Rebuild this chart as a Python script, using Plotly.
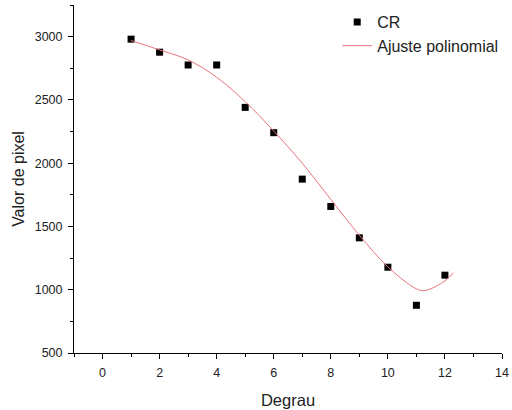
import plotly.graph_objects as go

# Measured data (CR)
degrau = [1, 2, 3, 4, 5, 6, 7, 8, 9, 10, 11, 12]
valor_cr = [2980, 2877, 2776, 2776, 2441, 2241, 1874, 1658, 1410, 1178, 877, 1115]

# Polynomial fit curve
fit_x = [1, 2, 3, 4, 5, 6, 7, 8, 9, 10, 11, 11.3, 12, 12.3]
fit_y = [2969, 2895, 2816, 2679, 2486, 2254, 2000, 1714, 1431, 1181, 1007, 993, 1070, 1136]

fig = go.Figure()
fig.add_trace(go.Scatter(
    x=degrau, y=valor_cr, mode="markers", name="CR",
    marker=dict(symbol="square", size=7, color="black"),
))
fig.add_trace(go.Scatter(
    x=fit_x, y=fit_y, mode="lines", name="Ajuste polinomial",
    line=dict(color="#e8737a", width=1, shape="spline"),
))

axis_common = dict(
    showline=True, linecolor="black", linewidth=1, showgrid=False, zeroline=False,
    ticks="outside", ticklen=5, tickcolor="black", tickwidth=1,
    tickfont=dict(family="Liberation Sans, Arial", size=12.5, color="#222"),
    automargin=False,
)

fig.update_layout(
    width=512, height=410,
    margin=dict(l=74, r=10, t=5, b=57, autoexpand=False),
    paper_bgcolor="white", plot_bgcolor="white",
    font=dict(family="Liberation Sans, Arial", color="#222"),
    showlegend=True,
    legend=dict(
        x=0.615, y=1.0, xanchor="left", yanchor="top",
        bgcolor="rgba(0,0,0,0)", font=dict(size=16, color="#222"),
        tracegroupgap=0, itemwidth=30,
    ),
    xaxis=dict(
        range=[-1, 14], dtick=2, tick0=0,
        minor=dict(dtick=1, ticks="outside", ticklen=3, tickcolor="black"),
        title=dict(text="Degrau", font=dict(size=16.5), standoff=15),
        ticklabelstandoff=3,
        **axis_common,
    ),
    yaxis=dict(
        range=[500, 3250], dtick=500, tick0=500,
        minor=dict(dtick=250, ticks="outside", ticklen=3, tickcolor="black"),
        title=dict(text="Valor de pixel", font=dict(size=16), standoff=6),
        ticklabelstandoff=3,
        **axis_common,
    ),
)

fig.write_html(
    "out.html",
    config={"displayModeBar": False},
    post_script="document.body.style.margin='0';document.body.style.overflow='hidden';",
)
